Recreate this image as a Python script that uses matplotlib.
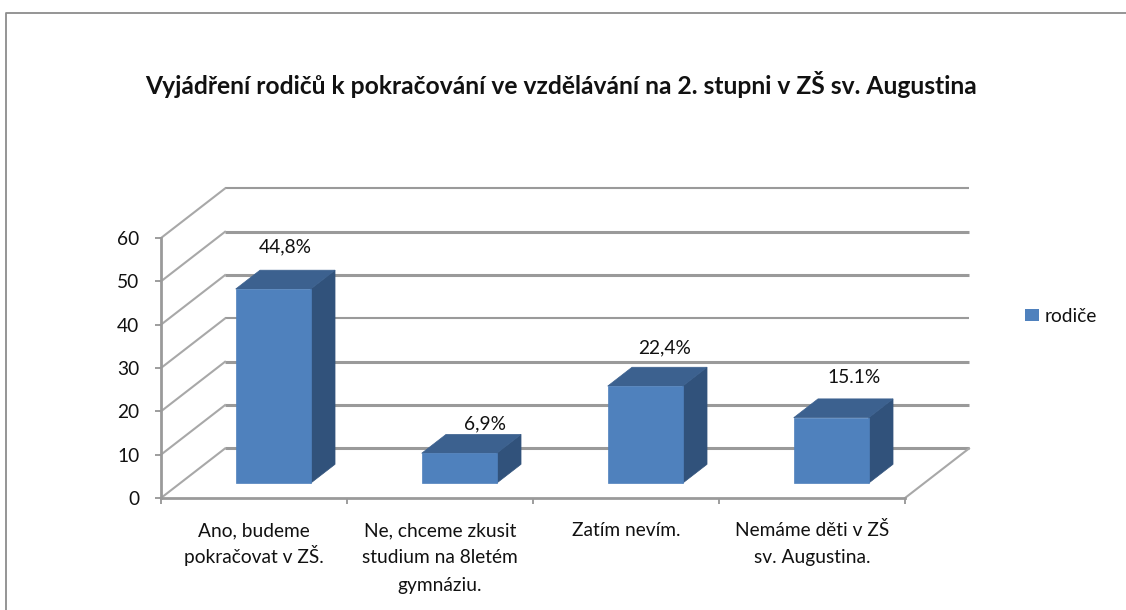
import matplotlib
matplotlib.use('Agg')
import matplotlib.pyplot as plt
from matplotlib.lines import Line2D
from matplotlib.patches import Patch, Polygon

plt.rcParams['font.family'] = ['Lato', 'DejaVu Sans']

# data
kategorie = ['Ano, budeme\npokračovat v ZŠ.', 'Ne, chceme zkusit\nstudium na 8letém\ngymnáziu.',
             'Zatím nevím.', 'Nemáme děti v ZŠ\nsv. Augustina.']
hodnoty = [44.8, 6.9, 22.4, 15.1]
popisky = ['44,8%', '6,9%', '22,4%', '15.1%']
osa_y = [0, 10, 20, 30, 40, 50, 60]
nazev = 'Vyjádření rodičů k pokračování ve vzdělávání na 2. stupni v ZŠ sv. Augustina'
serie = 'rodiče'

# fake 3D: how far the back wall is shifted from the front plane, in data units
HLOUBKA_X = 64 / 186
HLOUBKA_Y = 49.5 / 4.33
SEDA = '#a8a8a8'
PISMO = 13.8
sirky_mrizky = [2.2, 2.2, 2.2, 1.5, 2.2, 2.2, 1.5]


def bod(x, v, d):
    # project point at depth d (0 front, 1 back wall)
    return x + d * HLOUBKA_X, v + d * HLOUBKA_Y


fig = plt.figure(figsize=(11.26, 6.1), dpi=100)
# outer frame of the chart, only left and top are inside the picture
fig.add_artist(Line2D([5.5 / 1126, 5.5 / 1126, 1], [0, 1 - 12.5 / 610, 1 - 12.5 / 610],
                      color='#8c8c8c', lw=1.3))
ax = fig.add_axes([161 / 1126, (610 - 498) / 610, 744 / 1126, 260 / 610])
ax.set_xlim(0, 4)
ax.set_ylim(0, 60)
ax.patch.set_visible(False)

# gridlines on the back wall and diagonals on the left wall
for v, sirka in zip(osa_y, sirky_mrizky):
    x0, y0 = bod(0, v, 1)
    x1, y1 = bod(4, v, 1)
    ax.plot([x0, x1], [y0, y1], color='#9a9a9a', lw=sirka, clip_on=False, zorder=1, solid_capstyle='butt')
    x2, y2 = bod(0, v, 0)
    ax.plot([x2, x0], [y2, y0], color=SEDA, lw=1.5, clip_on=False, zorder=1)
x0, y0 = bod(4, 0, 0)
x1, y1 = bod(4, 0, 1)
ax.plot([x0, x1], [y0, y1], color=SEDA, lw=1.5, clip_on=False, zorder=1)

# bars
SIRKA = 75 / 186
D1, D2 = 0.30, 0.68
posun_x = [-12, 1, -5, -1]
posun_y = [23, 11, 19, 21]
for i, h in enumerate(hodnoty):
    a = i + 0.5 - SIRKA / 2
    b = a + SIRKA
    predek = [bod(a, 0, D1), bod(b, 0, D1), bod(b, h, D1), bod(a, h, D1)]
    bok = [bod(b, 0, D1), bod(b, 0, D2), bod(b, h, D2), bod(b, h, D1)]
    vrch = [bod(a, h, D1), bod(b, h, D1), bod(b, h, D2), bod(a, h, D2)]
    ax.add_patch(Polygon(bok, fc='#31527b', ec='#31527b', lw=0.5, clip_on=False, zorder=3))
    ax.add_patch(Polygon(vrch, fc='#3c618f', ec='#3c618f', lw=0.5, clip_on=False, zorder=3))
    ax.add_patch(Polygon(predek, fc='#4f81bd', ec='#4f81bd', lw=0.5, clip_on=False, zorder=4))
    ax.annotate(popisky[i], xy=bod(i + 0.5, h, D2), xytext=(posun_x[i] * 0.72, posun_y[i] * 0.72),
                textcoords='offset points', ha='center', va='center', fontsize=PISMO,
                color='#111111', zorder=5, annotation_clip=False)

# axes
for s in ['top', 'right']:
    ax.spines[s].set_visible(False)
for s in ['left', 'bottom']:
    ax.spines[s].set_color('#9a9a9a')
    ax.spines[s].set_linewidth(2)
ax.set_yticks(osa_y)
ax.set_xticks(range(5))
ax.set_xticklabels([])
ax.tick_params(axis='y', length=4.5, width=1.2, color='#8c8c8c', labelsize=PISMO, pad=11, labelcolor='#111111')
ax.tick_params(axis='x', length=4.5, width=1.2, color='#8c8c8c')
# one annotation per line, matplotlib spaces wrapped lines unevenly with the diacritics
for i, k in enumerate(kategorie):
    for j, radek in enumerate(k.split('\n')):
        ax.annotate(radek, xy=(i + 0.5, 0), xycoords='data', xytext=(0, -(38 + j * 27.3) * 0.72),
                    textcoords='offset points', ha='center', va='baseline', fontsize=PISMO,
                    color='#111111', annotation_clip=False)

fig.text(561 / 1126, 1 - 85 / 610, nazev, ha='center', va='center', fontsize=17.7,
         fontweight='bold', color='#111111')

leg = fig.legend(handles=[Patch(fc='#4f81bd', label=serie)], loc='center left',
                 bbox_to_anchor=(1025 / 1126, 1 - 316 / 610), frameon=False, fontsize=PISMO,
                 handlelength=0.72, handleheight=0.62, handletextpad=0.32, borderpad=0, borderaxespad=0)
for t in leg.get_texts():
    t.set_color('#111111')

fig.savefig('out.png', dpi=100)
